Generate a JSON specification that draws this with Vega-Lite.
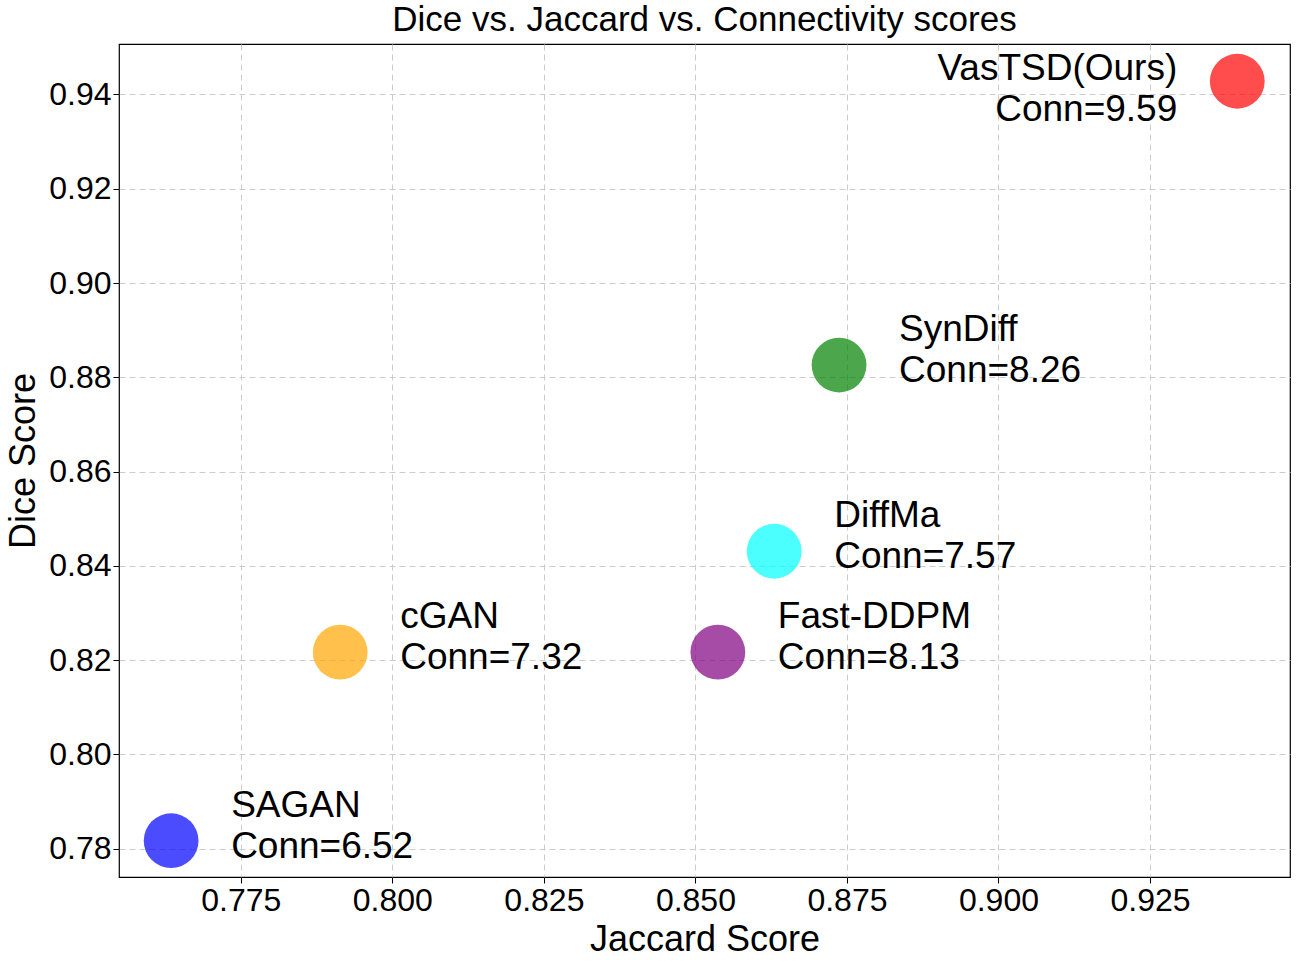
{
"$schema":"https://vega.github.io/schema/vega-lite/v6.json",
"width":1302,"height":962,
"autosize":{"type":"fit","contains":"padding"},
"padding":{"left":5,"right":12,"top":3,"bottom":5},
"config":{"font":"Liberation Sans","view":{"stroke":"black","strokeWidth":1.2},
"axis":{"labelFontSize":32,"titleFontSize":36,"titleFontWeight":"normal","labelColor":"black","titleColor":"black","gridDash":[6,4],"gridColor":"#cccccc","domain":false,"tickColor":"black","tickSize":6,"titlePadding":6}},
"title":{"text":"Dice vs. Jaccard vs. Connectivity scores","fontSize":35,"fontWeight":"normal","offset":6},
"data":{"values":[
{"model":"SAGAN","jaccard":0.7635,"dice":0.7817,"label":"SAGAN\nConn=6.52","side":"r"},
{"model":"cGAN","jaccard":0.7914,"dice":0.8217,"label":"cGAN\nConn=7.32","side":"r"},
{"model":"Fast-DDPM","jaccard":0.8537,"dice":0.8217,"label":"Fast-DDPM\nConn=8.13","side":"r"},
{"model":"DiffMa","jaccard":0.863,"dice":0.8431,"label":"DiffMa\nConn=7.57","side":"r"},
{"model":"SynDiff","jaccard":0.8737,"dice":0.8826,"label":"SynDiff\nConn=8.26","side":"r"},
{"model":"VasTSD(Ours)","jaccard":0.9394,"dice":0.9428,"label":"VasTSD(Ours)\nConn=9.59","side":"l"}
]},
"encoding":{
"x":{"field":"jaccard","type":"quantitative","title":"Jaccard Score","scale":{"domain":[0.7549,0.9481],"nice":false,"zero":false},"axis":{"values":[0.775,0.8,0.825,0.85,0.875,0.9,0.925],"format":".3f"}},
"y":{"field":"dice","type":"quantitative","title":"Dice Score","scale":{"domain":[0.774,0.9507],"nice":false,"zero":false},"axis":{"values":[0.78,0.8,0.82,0.84,0.86,0.88,0.9,0.92,0.94],"format":".2f"}}
},
"layer":[
{"mark":{"type":"circle","size":3000,"opacity":0.7},
"encoding":{"color":{"field":"model","type":"nominal","legend":null,"scale":{"domain":["SAGAN","cGAN","Fast-DDPM","DiffMa","SynDiff","VasTSD(Ours)"],"range":["blue","orange","purple","cyan","green","red"]}}}},
{"transform":[{"filter":"datum.side=='r'"}],
"mark":{"type":"text","align":"left","baseline":"middle","dx":60,"dy":-35,"fontSize":37,"lineBreak":"\n","lineHeight":41},
"encoding":{"text":{"field":"label"}}},
{"transform":[{"filter":"datum.side=='l'"}],
"mark":{"type":"text","align":"right","baseline":"middle","dx":-60,"dy":-12,"fontSize":37,"lineBreak":"\n","lineHeight":41},
"encoding":{"text":{"field":"label"}}}
]
}
